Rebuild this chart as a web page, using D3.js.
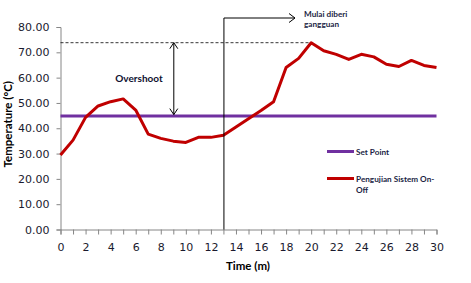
<!DOCTYPE html>
<html>
<head>
<meta charset="utf-8">
<script src="https://cdn.jsdelivr.net/npm/d3@7"></script>
<style>
  body { margin: 0; background: #fff; }
  svg { display: block; }
</style>
</head>
<body>
<svg id="chart" width="471" height="283"></svg>
<script>
// Data
const times = d3.range(0, 31);
const temps = [29.4, 35.3, 44.3, 48.8, 50.5, 51.6, 47.2, 37.7, 36.0, 34.9, 34.4, 36.4, 36.4, 37.2,
  40.5, 43.8, 47.0, 50.5, 64.0, 67.6, 73.8, 70.6, 69.2, 67.2, 69.2, 68.2, 65.3, 64.4, 66.8, 64.8, 64.0];
const setPoint = 44.8;
const yTicks = [0, 10, 20, 30, 40, 50, 60, 70, 80];
const disturbAt = 13;
const seriesNames = ['Set Point', 'Pengujian Sistem On-Off'];

const svg = d3.select('#chart');
const x = d3.scaleLinear().domain([0, 30]).range([60.5, 436.5]);
const y = d3.scaleLinear().domain([0, 80]).range([229.5, 27]);
const tickFont = '"DejaVu Sans", Verdana, sans-serif';
const labelFont = 'Lato, "Open Sans", sans-serif';
const axisColor = '#868686';

// y axis
const yAxis = svg.append('g').attr('transform', `translate(${x(0)},0)`)
  .call(d3.axisLeft(y).tickValues(yTicks).tickSize(4).tickPadding(7).tickFormat(d3.format('.2f')));
yAxis.selectAll('text').attr('font-family', tickFont).attr('font-size', 11).attr('fill', '#1a1a2e');

// x axis
const xAxis = svg.append('g').attr('transform', `translate(0,${y(0)})`)
  .call(d3.axisBottom(x).tickValues(times).tickSize(5).tickPadding(9)
    .tickFormat(d => d % 2 === 0 ? d : ''));
xAxis.selectAll('text').attr('font-family', tickFont).attr('font-size', 11).attr('fill', '#1a1a2e');
[yAxis, xAxis].forEach(a => {
  a.select('.domain').attr('stroke', axisColor);
  a.selectAll('.tick line').attr('stroke', axisColor);
});

// axis titles
svg.append('text').attr('x', 248).attr('y', 270).attr('text-anchor', 'middle')
  .attr('font-family', labelFont).attr('font-weight', 'bold').attr('font-size', 11.5)
  .text('Time (m)');
svg.append('text').attr('transform', `translate(12,${(y(0) + y(80)) / 2 - 4}) rotate(-90)`)
  .attr('text-anchor', 'middle')
  .attr('font-family', labelFont).attr('font-weight', 'bold').attr('font-size', 11.5)
  .text('Temperature (°C)');

// set point line
svg.append('line').attr('x1', x(0)).attr('x2', x(30)).attr('y1', y(setPoint)).attr('y2', y(setPoint))
  .attr('stroke', '#7030A0').attr('stroke-width', 3);

// peak dashed line
const peakIdx = d3.maxIndex(temps);
svg.append('line').attr('x1', x(0)).attr('x2', x(times[peakIdx])).attr('y1', y(temps[peakIdx])).attr('y2', y(temps[peakIdx]))
  .attr('stroke', '#000').attr('stroke-width', 0.8).attr('stroke-dasharray', '3,2');

// temperature line
const data = times.map((t, i) => ({t, v: temps[i]}));
svg.append('path').datum(data)
  .attr('fill', 'none').attr('stroke', '#C00000').attr('stroke-width', 3).attr('stroke-linejoin', 'round')
  .attr('d', d3.line().x(d => x(d.t)).y(d => y(d.v)));

// arrows
function chevron(px, py, dir) {
  let p;
  if (dir === 'up') p = [[px - 4, py + 6], [px, py], [px + 4, py + 6]];
  else if (dir === 'down') p = [[px - 4, py - 6], [px, py], [px + 4, py - 6]];
  else p = [[px - 6, py - 4.5], [px, py], [px - 6, py + 4.5]];
  svg.append('path').attr('d', d3.line()(p)).attr('fill', 'none').attr('stroke', '#000').attr('stroke-width', 1);
}
const ax = x(9) + 0.5;
svg.append('line').attr('x1', ax).attr('x2', ax).attr('y1', y(temps[peakIdx])).attr('y2', y(setPoint) - 1.5)
  .attr('stroke', '#000').attr('stroke-width', 1);
chevron(ax, y(temps[peakIdx]), 'up');
chevron(ax, y(setPoint) - 1.5, 'down');
svg.append('text').attr('x', 139).attr('y', 82).attr('text-anchor', 'middle')
  .attr('font-family', labelFont).attr('font-weight', 'bold').attr('font-size', 10).attr('fill', '#0d1030')
  .text('Overshoot');

// disturbance marker
const dx = x(disturbAt) + 0.5;
svg.append('path').attr('d', d3.line()([[dx, y(0)], [dx, 18], [295, 18]]))
  .attr('fill', 'none').attr('stroke', '#000').attr('stroke-width', 1);
chevron(295, 18, 'right');
const mt = svg.append('text').attr('font-family', labelFont).attr('font-weight', 'bold')
  .attr('font-size', 8.2).attr('fill', '#1b1f45');
mt.append('tspan').attr('x', 304).attr('y', 17).text('Mulai diberi');
mt.append('tspan').attr('x', 304).attr('y', 27).text('gangguan');

// legend
const legend = svg.append('g');
const legendRows = [
  {name: seriesNames[0], color: '#7030A0', y: 151.5},
  {name: seriesNames[1], color: '#C00000', y: 178.5}
];
legendRows.forEach(r => {
  legend.append('line').attr('x1', 327).attr('x2', 354).attr('y1', r.y).attr('y2', r.y)
    .attr('stroke', r.color).attr('stroke-width', 3);
});
legend.append('text').attr('x', 356).attr('y', 154.5)
  .attr('font-family', labelFont).attr('font-weight', 'bold').attr('font-size', 8.2).attr('fill', '#1b1f45')
  .text(legendRows[0].name);
const lt = legend.append('text').attr('font-family', labelFont).attr('font-weight', 'bold')
  .attr('font-size', 8.2).attr('fill', '#1b1f45');
lt.append('tspan').attr('x', 356).attr('y', 181.5).text('Pengujian Sistem On-');
lt.append('tspan').attr('x', 356).attr('y', 192.5).text('Off');
</script>
</body>
</html>
